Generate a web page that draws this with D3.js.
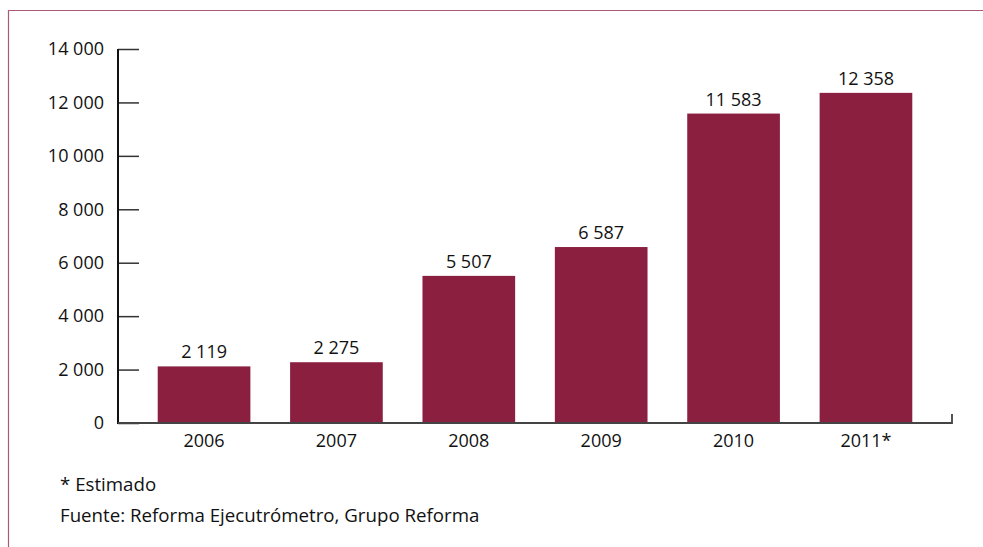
<!DOCTYPE html>
<html>
<head>
<meta charset="utf-8">
<script src="https://cdn.jsdelivr.net/npm/d3@7"></script>
<style>
  body { margin: 0; background: #fff; }
  text { font-family: "Open Sans", sans-serif; fill: #111; }
</style>
</head>
<body>
<div id="chart"></div>
<script>
const years = ["2006", "2007", "2008", "2009", "2010", "2011*"];
const values = [2119, 2275, 5507, 6587, 11583, 12358];
const yTicks = [0, 2000, 4000, 6000, 8000, 10000, 12000, 14000];
const notes = ["* Estimado", "Fuente: Reforma Ejecutrómetro, Grupo Reforma"];

const width = 983;
const height = 547;
const barColor = "#8a1f40";
const frameColor = "#a85a78";

const fmt = (v) => d3.format(",")(v).replace(/,/g, " ");

const svg = d3
    .select("#chart")
    .append("svg")
    .attr("width", width)
    .attr("height", height);

// frame (top + left rule)
svg.append("line")
    .attr("x1", 8).attr("x2", width)
    .attr("y1", 10.5).attr("y2", 10.5)
    .attr("stroke", frameColor).attr("stroke-width", 1.2);
svg.append("line")
    .attr("x1", 8.5).attr("x2", 8.5)
    .attr("y1", 10).attr("y2", height)
    .attr("stroke", frameColor).attr("stroke-width", 1.2);

const x = d3
    .scaleBand()
    .domain(years)
    .range([118, 952])
    .paddingInner(0.3)
    .paddingOuter(0.3);

const y = d3.scaleLinear().domain([0, 14000]).range([423, 49]);

// bars
svg.selectAll(".bar")
    .data(values)
    .enter()
    .append("rect")
    .attr("class", "bar")
    .attr("x", (d, i) => x(years[i]))
    .attr("y", (d) => y(d))
    .attr("width", x.bandwidth())
    .attr("height", (d) => y(0) - y(d))
    .attr("fill", barColor);

// value labels
svg.selectAll(".val")
    .data(values)
    .enter()
    .append("text")
    .attr("class", "val")
    .attr("x", (d, i) => x(years[i]) + x.bandwidth() / 2)
    .attr("y", (d) => y(d) - 8)
    .attr("text-anchor", "middle")
    .style("font-size", "18px")
    .text((d) => fmt(d));

// y axis
const yAxis = d3.axisRight(y).tickValues(yTicks).tickSize(21).tickFormat("");
const gy = svg.append("g").attr("transform", "translate(118,0)").call(yAxis);
gy.select(".domain").remove();
gy.selectAll(".tick line").attr("stroke", "#333").attr("stroke-width", 1.5);
svg.append("line")
    .attr("x1", 118).attr("x2", 118)
    .attr("y1", y(14000)).attr("y2", y(0) + 1)
    .attr("stroke", "#111").attr("stroke-width", 2);

svg.selectAll(".ylab")
    .data(yTicks)
    .enter()
    .append("text")
    .attr("class", "ylab")
    .attr("x", 104)
    .attr("y", (d) => y(d))
    .attr("dy", "0.35em")
    .attr("text-anchor", "end")
    .style("font-size", "18px")
    .text((d) => fmt(d));

// x axis
svg.append("path")
    .attr("d", `M118,${y(0)}H952V${y(0) - 9}`)
    .attr("fill", "none")
    .attr("stroke", "#444")
    .attr("stroke-width", 1.8);

svg.selectAll(".xlab")
    .data(years)
    .enter()
    .append("text")
    .attr("class", "xlab")
    .attr("x", (d) => x(d) + x.bandwidth() / 2)
    .attr("y", 447)
    .attr("text-anchor", "middle")
    .style("font-size", "18px")
    .text((d) => d);

// notes
svg.selectAll(".note")
    .data(notes)
    .enter()
    .append("text")
    .attr("class", "note")
    .attr("x", 60)
    .attr("y", (d, i) => 491 + i * 31)
    .style("font-size", "18.7px")
    .text((d) => d);
</script>
</body>
</html>
